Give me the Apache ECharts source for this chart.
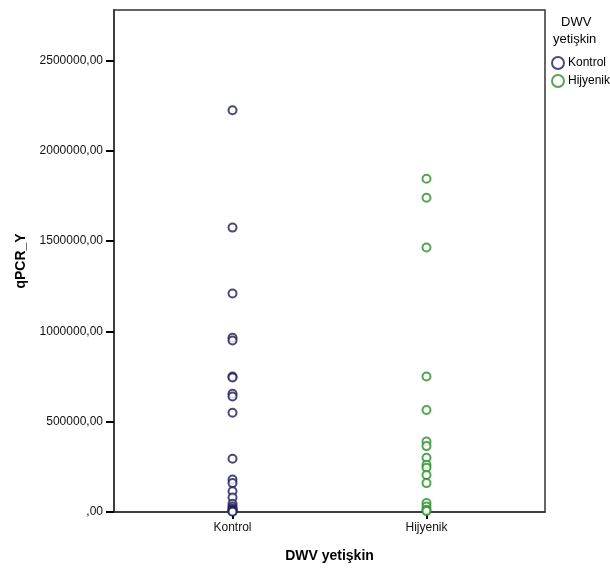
<!DOCTYPE html>
<html>
<head>
<meta charset="utf-8">
<script src="https://cdn.jsdelivr.net/npm/echarts@6/dist/echarts.min.js"></script>
<style>html,body{margin:0;padding:0;background:#fff}#c{width:610px;height:568px}</style>
</head>
<body>
<div id="c"></div>
<script>
const categories = ['Kontrol', 'Hijyenik'];
const kontrolValues = [2225000, 1575000, 1210000, 965000, 950000, 750000, 745000, 655000, 640000, 550000, 295000, 180000, 160000, 115000, 80000, 45000, 30000, 20000, 12000, 8000, 5000, 2000];
const hijyenikValues = [1845000, 1740000, 1465000, 750000, 565000, 390000, 365000, 300000, 262000, 245000, 205000, 160000, 50000, 30000, 12000, 5000];
const yTicks = [0, 500000, 1000000, 1500000, 2000000, 2500000];
const colors = ['#1c1c58', '#2a8c2a'];

const font = 'Liberation Sans, Arial, sans-serif';
const chart = echarts.init(document.getElementById('c'));
const seriesValues = [kontrolValues, hijyenikValues];
chart.setOption({
  animation: false,
  backgroundColor: '#ffffff',
  grid: { left: 114, right: 65, top: 10, bottom: 54, show: true, borderColor: '#333', borderWidth: 1.5, backgroundColor: 'transparent' },
  xAxis: {
    type: 'value', min: -0.611, max: 1.611,
    name: 'DWV yetişkin', nameLocation: 'middle', nameGap: 37,
    nameTextStyle: { fontFamily: font, fontWeight: 'bold', fontSize: 14, color: '#000' },
    axisLine: { show: true, onZero: false, lineStyle: { color: '#333', width: 1.5 } },
    axisTick: { show: true, length: 7, customValues: [0, 1], lineStyle: { color: '#000', width: 2 } },
    axisLabel: { customValues: [0, 1], formatter: v => categories[Math.round(v)], fontFamily: font, fontSize: 12, color: '#111', margin: 10 },
    splitLine: { show: false }
  },
  yAxis: {
    type: 'value', min: 0, max: 2780000,
    name: 'qPCR_Y', nameLocation: 'middle', nameGap: 86,
    nameTextStyle: { fontFamily: font, fontWeight: 'bold', fontSize: 14, color: '#000' },
    axisLine: { show: true, onZero: false, lineStyle: { color: '#333', width: 1.5 } },
    axisTick: { show: true, length: 8, customValues: yTicks, lineStyle: { color: '#000', width: 2 } },
    axisLabel: { customValues: yTicks, formatter: v => (v === 0 ? '' : String(v)) + ',00', fontFamily: font, fontSize: 12, color: '#111', margin: 11 },
    splitLine: { show: false }
  },
  legend: {
    orient: 'vertical', left: 551, top: 56, padding: 0, itemGap: 4, itemWidth: 12, itemHeight: 12,
    icon: 'emptyCircle',
    textStyle: { fontFamily: font, fontSize: 12, color: '#000', padding: [0, 0, 0, -1] },
    data: categories
  },
  graphic: [
    { type: 'text', left: 561, top: 16, style: { text: 'DWV', font: '13px ' + font, fill: '#000' } },
    { type: 'text', left: 553, top: 33, style: { text: 'yetişkin', font: '13px ' + font, fill: '#000' } }
  ],
  series: categories.map((c, i) => ({
    name: c, type: 'scatter', symbol: 'emptyCircle', symbolSize: 8,
    itemStyle: { color: colors[i], borderWidth: 1.6 },
    data: seriesValues[i].map(v => [i, v])
  }))
});
</script>
</body>
</html>
